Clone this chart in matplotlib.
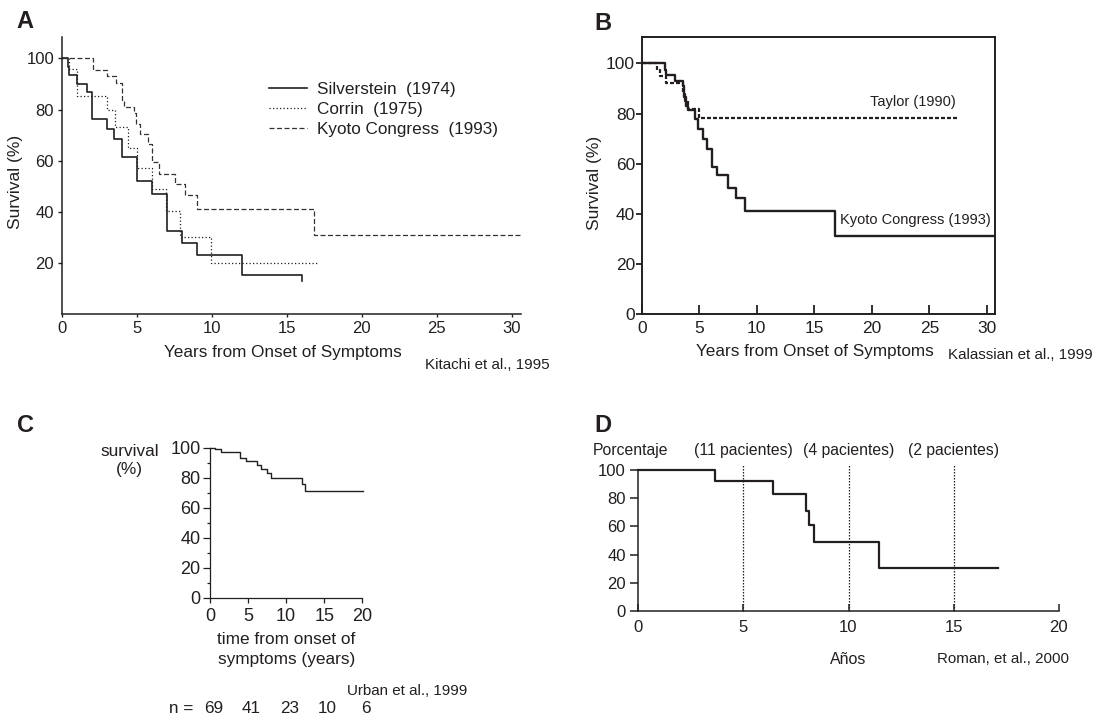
import matplotlib
matplotlib.use("Agg")
from matplotlib import pyplot as plt
from matplotlib import transforms
import numpy as np

plt.rcParams['font.family'] = ['Liberation Sans', 'DejaVu Sans']
INK = '#231f20'
plt.rcParams['text.color'] = INK
plt.rcParams['axes.edgecolor'] = INK
plt.rcParams['xtick.color'] = INK
plt.rcParams['ytick.color'] = INK

# --- panel A (Kitachi et al., 1995) ---
silv_t = [0, 0.4, 0.5, 1.05, 1.7, 2.0, 3.0, 3.5, 4.0, 5.0, 6.0, 7.0, 8.0, 9.0, 12.0, 16.0]
silv_v = [100, 96.8, 93.5, 90, 87, 76.5, 72.5, 68.5, 61.5, 52, 47, 32.5, 28, 23, 15.5, 13]
corr_t = [0, 0.5, 1.0, 3.0, 3.55, 4.4, 5.0, 6.0, 6.95, 7.9, 9.95, 17.0]
corr_v = [100, 95.8, 85.4, 79.8, 73.1, 64.9, 57.3, 49, 40.3, 30.3, 20.1, 20.1]
kyA_t = [0, 2.1, 3.0, 3.6, 4.0, 4.15, 4.8, 4.95, 5.2, 5.75, 6.0, 6.5, 7.55, 8.2, 9.0, 16.8, 30.6]
kyA_v = [100, 95.5, 93, 90.5, 83.5, 81, 78.5, 74.5, 70.5, 66.5, 59.5, 55, 51, 46.5, 41, 31, 31]

# --- panel B (Kalassian et al., 1999) ---
kyB_t = [0, 2.0, 2.1, 2.9, 3.55, 3.7, 3.85, 4.0, 4.65, 4.85, 5.3, 5.65, 6.1, 6.5, 7.5, 8.2, 9.0, 16.8, 30.7]
kyB_v = [100, 97.5, 95.3, 93, 91, 86.7, 83, 81.4, 78, 74, 69.7, 66, 58.8, 55.5, 50.2, 46.5, 41.3, 31.2, 31.2]
tay_t = [0, 1.3, 1.6, 2.1, 3.6, 3.75, 4.0, 5.0, 27.4]
tay_v = [100, 97.3, 95, 92, 88, 85, 81.7, 78.2, 78.2]

# --- panel C (Urban et al., 1999) ---
urb_t = [0, 0.66, 1.4, 3.95, 4.75, 6.15, 6.65, 7.45, 8.0, 12.05, 12.5, 20.1]
urb_v = [100, 98.9, 97.3, 93.3, 90.9, 88.5, 85.6, 82.9, 79.6, 75.8, 70.9, 70.9]
risk_t = [0, 5, 10, 15, 20]
risk_n = [69, 41, 23, 10, 6]

# --- panel D (Roman et al., 2000) ---
rom_t = [0, 3.65, 6.4, 8.0, 8.1, 8.35, 11.45, 17.1]
rom_v = [100, 92.4, 83, 71.2, 61, 49.2, 30.3, 30.3]
mark_t = [5, 10, 15]
mark_lbl = ['(11 pacientes)', '(4 pacientes)', '(2 pacientes)']

W, H = 1094, 716
fig = plt.figure(figsize=(W / 100, H / 100), dpi=100)


def box(x0, y0, x1, y1):
    return [x0 / W, 1 - y1 / H, (x1 - x0) / W, (y1 - y0) / H]


def ftext(x, y, s, **kw):
    kw.setdefault('va', 'center')
    return fig.text(x / W, 1 - y / H, s, **kw)


# ---------------- A ----------------
axA = fig.add_axes(box(61.7, 36.7, 520.7, 314.3))
axA.step(silv_t, silv_v, where='post', color=INK, lw=1.2, label='Silverstein  (1974)')
axA.step(corr_t, corr_v, where='post', color=INK, lw=0.9, dashes=(1, 1.8), label='Corrin  (1975)')
axA.step(kyA_t, kyA_v, where='post', color='#333333', lw=0.9, dashes=(4, 2), label='Kyoto Congress  (1993)')
axA.set_xlim(0, 30.6)
axA.set_ylim(0, 108.5)
axA.set_xticks(range(0, 31, 5))
axA.set_yticks([20, 40, 60, 80, 100])
for s in ['top', 'right']:
    axA.spines[s].set_visible(False)
for s in ['left', 'bottom']:
    axA.spines[s].set_linewidth(1.1)
axA.tick_params(axis='x', direction='out', length=2.5, width=1, pad=2.3, labelsize=12)
axA.tick_params(axis='y', direction='out', length=3, width=1, pad=2.5, labelsize=12)
axA.legend(loc='upper left', bbox_to_anchor=(269 / W, 1 - 81.8 / H), bbox_transform=fig.transFigure,
           frameon=False, fontsize=12.3, handlelength=2.2, handletextpad=0.62,
           labelspacing=0.3, borderpad=0, borderaxespad=0)
ftext(25, 22, 'A', fontsize=17, fontweight='bold', ha='center')
ftext(16, 182, 'Survival (%)', fontsize=12.5, rotation=90, ha='center')
ftext(282.8, 353, 'Years from Onset of Symptoms', fontsize=12.3, ha='center')
ftext(425, 365, 'Kitachi et al., 1995', fontsize=10.9, ha='left')

# ---------------- B ----------------
axB = fig.add_axes(box(641.7, 37.3, 995, 314.3))
axB.step(kyB_t, kyB_v, where='post', color=INK, lw=1.7)
axB.step(tay_t, tay_v, where='post', color=INK, lw=1.6, dashes=(1.8, 0.9))
axB.set_xlim(0, 30.7)
axB.set_ylim(0, 110.4)
axB.set_xticks(range(0, 31, 5))
axB.set_yticks(range(0, 101, 20))
for s in axB.spines.values():
    s.set_linewidth(1.4)
axB.tick_params(axis='x', direction='in', length=6.7, width=1.3, pad=4.8, labelsize=12.5)
axB.tick_params(axis='y', direction='out', length=4, width=1.3, pad=0.8, labelsize=12.5)
axB.text(27.25, 84.7, 'Taylor (1990)', fontsize=10.5, ha='right', va='center')
axB.text(17.2, 37.6, 'Kyoto Congress (1993)', fontsize=10.5, ha='left', va='center')
ftext(603, 23, 'B', fontsize=17, fontweight='bold', ha='center')
ftext(595, 183, 'Survival (%)', fontsize=12.5, rotation=90, ha='center')
ftext(814.7, 352, 'Years from Onset of Symptoms', fontsize=12.3, ha='center')
ftext(948, 355, 'Kalassian et al., 1999', fontsize=10.9, ha='left')

# ---------------- C ----------------
axC = fig.add_axes(box(210, 447.7, 362.3, 597.7))
axC.step(urb_t, urb_v, where='post', color=INK, lw=1.0, clip_on=False)
axC.set_xlim(0, 20)
axC.set_ylim(0, 100)
axC.set_xticks(range(0, 21, 5))
axC.set_yticks(range(0, 101, 20))
axC.set_yticks(range(10, 100, 20), minor=True)
for s in ['top', 'right']:
    axC.spines[s].set_visible(False)
for s in ['left', 'bottom']:
    axC.spines[s].set_linewidth(0.9)
axC.tick_params(axis='x', direction='out', length=3.6, width=0.9, pad=3.6, labelsize=13)
axC.tick_params(axis='y', which='major', direction='out', length=4.8, width=0.9, pad=2, labelsize=13)
axC.tick_params(axis='y', which='minor', direction='out', length=2.4, width=0.9)
ftext(25, 425, 'C', fontsize=17, fontweight='bold', ha='center')
ftext(129.5, 451, 'survival', fontsize=12.4, ha='center')
ftext(129.5, 469.3, '(%)', fontsize=12.4, ha='center')
ftext(286.5, 640, 'time from onset of', fontsize=12.4, ha='center')
ftext(286.5, 659.3, 'symptoms (years)', fontsize=12.4, ha='center')
ftext(346.7, 690.7, 'Urban et al., 1999', fontsize=10.9, ha='left')
ftext(193.3, 708.3, 'n =', fontsize=12.3, ha='right')
blend = transforms.blended_transform_factory(axC.transData, fig.transFigure)
for t, n in zip(risk_t, risk_n):
    fig.text(t + 0.45, 1 - 708.3 / H, str(n), transform=blend, fontsize=12.3, ha='center', va='center')

# ---------------- D ----------------
axD = fig.add_axes(box(638.3, 470, 1058.7, 611))
axD.step(rom_t, rom_v, where='post', color=INK, lw=1.6, clip_on=False)
axD.vlines(mark_t, 0, 104, colors=INK, lw=0.9, linestyles=(0, (1.2, 1.2)), clip_on=False)
axD.set_xlim(0, 20)
axD.set_ylim(0, 100)
axD.set_xticks(range(0, 21, 5))
axD.set_yticks(range(0, 101, 20))
for s in ['top', 'right']:
    axD.spines[s].set_visible(False)
for s in ['left', 'bottom']:
    axD.spines[s].set_linewidth(1.1)
axD.tick_params(axis='x', direction='in', length=5, width=1.1, pad=6.7, labelsize=12)
axD.tick_params(axis='y', direction='out', length=5.5, width=1.1, pad=3.5, labelsize=12)
blendD = transforms.blended_transform_factory(axD.transData, fig.transFigure)
for t, s in zip(mark_t, mark_lbl):
    fig.text(t, 1 - 450.7 / H, s, transform=blendD, fontsize=11.3, ha='center', va='center')
ftext(603, 425, 'D', fontsize=17, fontweight='bold', ha='center')
ftext(592.7, 450, 'Porcentaje', fontsize=11.3, ha='left')
ftext(848, 659, 'Años', fontsize=11.5, ha='center')
ftext(937, 659, 'Roman, et al., 2000', fontsize=10.9, ha='left')

fig.savefig('out.png', dpi=100, facecolor='white')
